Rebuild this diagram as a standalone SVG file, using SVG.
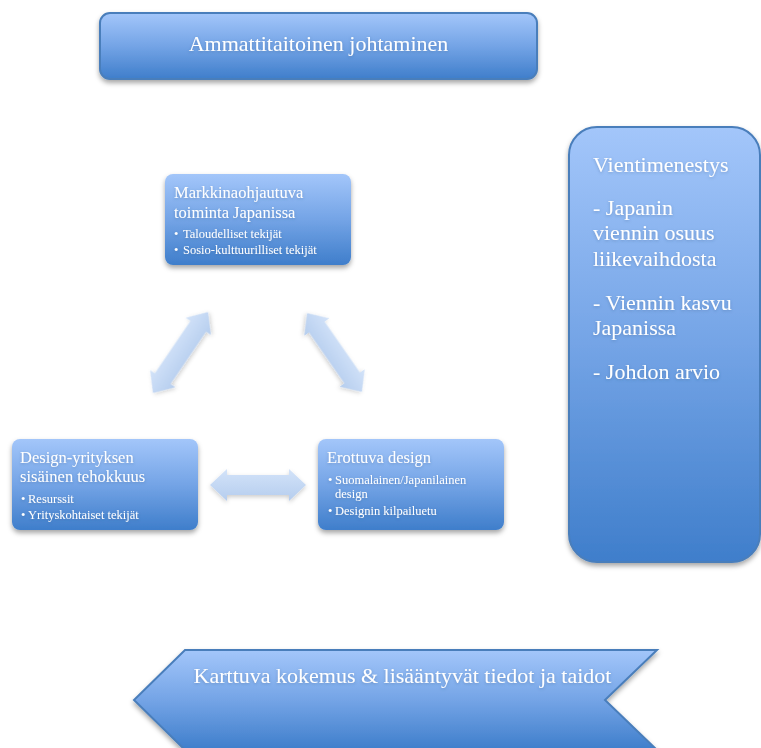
<svg xmlns="http://www.w3.org/2000/svg" width="761" height="748" viewBox="0 0 761 748">
  <defs>
    <linearGradient id="blueFill" x1="0" y1="0" x2="0" y2="1">
      <stop offset="0" stop-color="#a3c6fa"/>
      <stop offset="0.5" stop-color="#74a4e6"/>
      <stop offset="1" stop-color="#3f7ecb"/>
    </linearGradient>
    <linearGradient id="arrowFill" x1="0" y1="0" x2="0" y2="1">
      <stop offset="0" stop-color="#d3e3f9"/>
      <stop offset="1" stop-color="#b5cdee"/>
    </linearGradient>
    <filter id="shadow" x="-20%" y="-20%" width="140%" height="150%">
      <feDropShadow dx="0" dy="3" stdDeviation="2.5" flood-color="#000" flood-opacity="0.35"/>
    </filter>
    <filter id="softShadow" x="-30%" y="-30%" width="160%" height="160%">
      <feDropShadow dx="0" dy="2" stdDeviation="2" flood-color="#000" flood-opacity="0.2"/>
    </filter>
    <filter id="textGlow" x="-10%" y="-30%" width="120%" height="160%">
      <feDropShadow dx="0" dy="1" stdDeviation="1.5" flood-color="#33557f" flood-opacity="0.35"/>
    </filter>
    <!-- double-headed block arrow, centred on the origin, 96 long -->
    <path id="dblArrow" d="M -48,0 L -31,-16 L -31,-10 L 31,-10 L 31,-16 L 48,0 L 31,16 L 31,10 L -31,10 L -31,16 Z"/>
  </defs>
  <style>
    .box { fill: url(#blueFill); filter: url(#shadow); }
    .outlined { stroke: #4a7ebb; stroke-width: 2; }
    .txt { font-family: "Liberation Serif", "Times New Roman", serif; fill: #ffffff; filter: url(#textGlow); }
    .title { font-size: 16.5px; }
    .bullet { font-size: 12.5px; }
    .small { font-size: 11.5px; }
    .big { font-size: 22px; }
    .arrow { fill: url(#arrowFill); filter: url(#softShadow); }
  </style>

  <rect width="761" height="748" fill="#ffffff"/>

  <!-- header banner -->
  <g id="leadership">
    <rect class="box outlined" x="100" y="13" width="437" height="66" rx="10"/>
    <text class="txt big" x="318.5" y="51" text-anchor="middle">Ammattitaitoinen johtaminen</text>
  </g>

  <!-- market orientation -->
  <g id="market">
    <rect class="box" x="165" y="174" width="186" height="91" rx="8"/>
    <text class="txt title" x="174" y="198">Markkinaohjautuva</text>
    <text class="txt title" x="174" y="218">toiminta Japanissa</text>
    <text class="txt bullet" x="174" y="238">•<tspan x="183">Taloudelliset tekijät</tspan></text>
    <text class="txt bullet" x="174" y="254">•<tspan x="183">Sosio-kulttuurilliset tekijät</tspan></text>
  </g>

  <!-- internal efficiency -->
  <g id="efficiency">
    <rect class="box" x="12" y="439" width="186" height="91" rx="8"/>
    <text class="txt title" x="20" y="463">Design-yrityksen</text>
    <text class="txt title" x="20" y="482">sisäinen tehokkuus</text>
    <text class="txt bullet" x="21" y="503">•<tspan x="28">Resurssit</tspan></text>
    <text class="txt bullet" x="21" y="519">•<tspan x="28">Yrityskohtaiset tekijät</tspan></text>
  </g>

  <!-- distinctive design -->
  <g id="design">
    <rect class="box" x="318" y="439" width="186" height="91" rx="8"/>
    <text class="txt title" x="327" y="463">Erottuva design</text>
    <text class="txt bullet" x="328" y="484">•<tspan x="335">Suomalainen/Japanilainen</tspan></text>
    <text class="txt bullet" x="335" y="498">design</text>
    <text class="txt bullet" x="328" y="515">•<tspan x="335">Designin kilpailuetu</tspan></text>
  </g>

  <!-- export success -->
  <g id="exportSuccess">
    <rect class="box outlined" x="569" y="127" width="191" height="435" rx="28"/>
    <text class="txt big" x="593" y="172">Vientimenestys</text>
    <text class="txt big" x="593" y="215">- Japanin</text>
    <text class="txt big" x="593" y="240">viennin osuus</text>
    <text class="txt big" x="593" y="266">liikevaihdosta</text>
    <text class="txt big" x="593" y="310">- Viennin kasvu</text>
    <text class="txt big" x="593" y="335">Japanissa</text>
    <text class="txt big" x="593" y="379">- Johdon arvio</text>
  </g>

  <!-- accumulating experience -->
  <g id="experience">
    <polygon class="box outlined" points="185,650 657,650 605,700 657,750 185,750 134,700"/>
    <text class="txt big" x="402.5" y="683" text-anchor="middle">Karttuva kokemus &amp; lisääntyvät tiedot ja taidot</text>
  </g>

  <!-- two-way links between the three factors -->
  <g id="connectors">
    <use href="#dblArrow" class="arrow" transform="translate(180.5,352.5) rotate(-55.8) scale(1.02,0.95)"/>
    <use href="#dblArrow" class="arrow" transform="translate(334.5,352.5) rotate(55.2) scale(1.0,0.95)"/>
    <use href="#dblArrow" class="arrow" transform="translate(258,485)"/>
  </g>
</svg>
